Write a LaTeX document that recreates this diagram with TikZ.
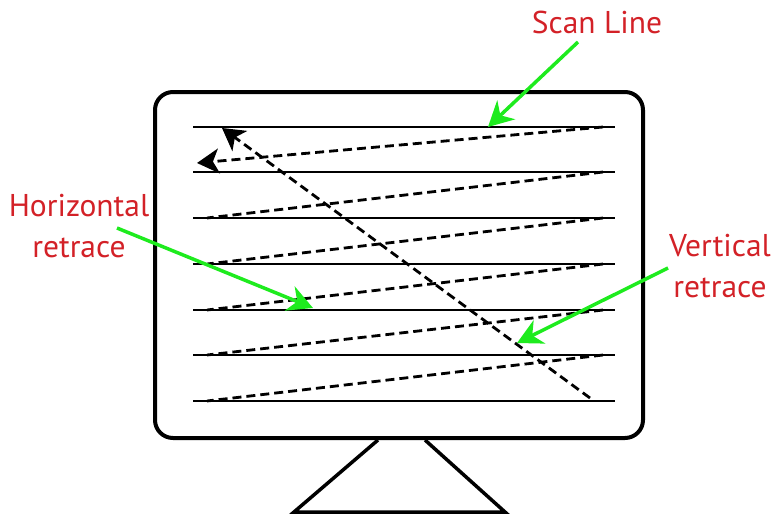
\documentclass[tikz,border=0pt]{standalone}
\usepackage{fontspec}
\setmainfont{PT Sans}
\usetikzlibrary{arrows.meta}
\definecolor{lblred}{RGB}{211,33,39}
\definecolor{ptrgreen}{RGB}{30,235,30}
\begin{document}
\begin{tikzpicture}[x=1pt,y=-1pt,
  frame/.style={line width=4pt, black, rounded corners=18pt},
  standline/.style={line width=3.5pt, black, line join=miter},
  scanline/.style={line width=2.6pt, black},
  retrace/.style={line width=2.8pt, dash pattern=on 9pt off 5pt, black},
  pointer/.style={line width=3.5pt, ptrgreen, -{Stealth[length=25pt,width=26pt,inset=8pt]}},
  lbl/.style={text=lblred, font=\fontsize{31.5}{41}\selectfont, align=center, inner sep=0pt},
  tipped/.style={-{Stealth[length=22pt,width=25pt,inset=6pt]}}
]
\useasboundingbox (0,0) rectangle (774,517);

% monitor
\draw[frame] (155,92) rectangle (643,438);
\coordinate (st1) at (378,440);
\coordinate (st2) at (294,512);
\coordinate (st3) at (505,512);
\coordinate (st4) at (425,440);
\draw[standline] (st1) -- (st2) -- (st3) -- (st4);

% scan lines
\foreach \i/\y in {1/127,2/172,3/218,4/264,5/310,6/355,7/401}{
  \coordinate (L\i) at (193,\y);
  \coordinate (R\i) at (615,\y);
  \coordinate (dL\i) at (207,\y);
  \coordinate (dR\i) at (603,\y);
  \draw[scanline] (L\i) -- (R\i);
}

% horizontal retraces
\coordinate (htip) at (197,163);
\draw[retrace, tipped] (dR1) -- (htip);
\foreach \i/\j in {2/3,3/4,4/5,5/6,6/7}{
  \draw[retrace] (dR\i) -- (dL\j);
}

% vertical retrace
\coordinate (vstart) at (590,398);
\coordinate (vtip) at (222,128);
\draw[retrace, tipped] (vstart) -- (vtip);

% labels
\node[lbl, anchor=base] (scan) at (597,33) {Scan Line};
\node[lbl] (hor) at (79,226) {Horizontal\\retrace};
\node[lbl] (ver) at (720,266) {Vertical\\retrace};

% pointers
\coordinate (scanfrom) at (578,42);
\coordinate (scanto) at (488,127);
\coordinate (horfrom) at (117,228);
\coordinate (horto) at (313,308);
\coordinate (verfrom) at (668,268);
\coordinate (verto) at (517,343);
\draw[pointer] (scanfrom) -- (scanto);
\draw[pointer] (horfrom) -- (horto);
\draw[pointer] (verfrom) -- (verto);
\end{tikzpicture}
\end{document}
